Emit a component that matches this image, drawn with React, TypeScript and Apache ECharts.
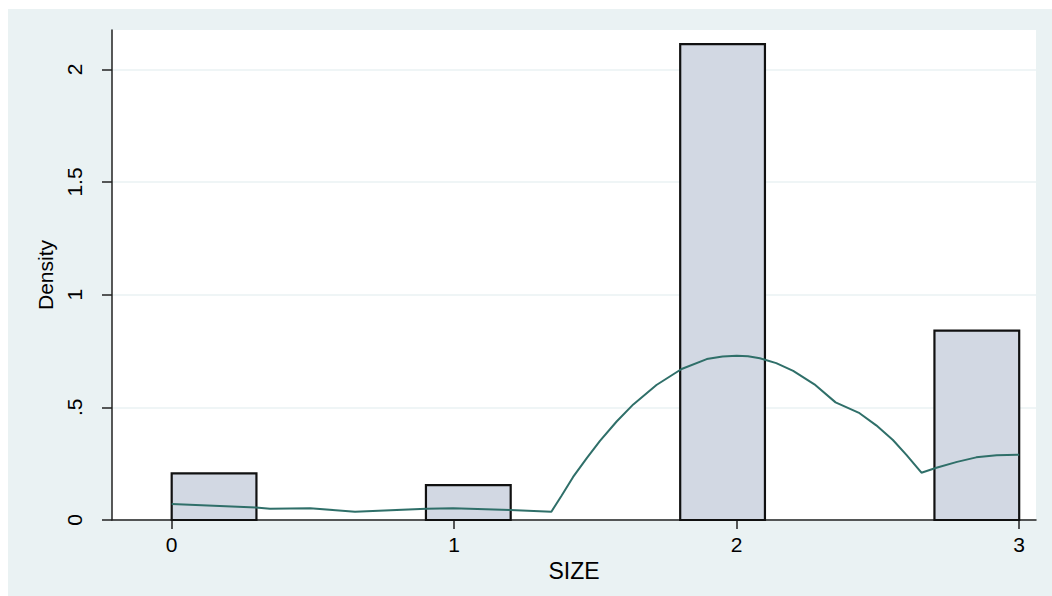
import React, { useEffect, useRef } from "react";
import * as echarts from "echarts";

// Histogram bins (lower edge) and densities
const binStarts = [0, 0.9, 1.8, 2.7];
const binWidth = 0.3;
const binDensity = [0.207, 0.155, 2.112, 0.84];

// Kernel density estimate (x, density)
const kdeX = [0, 0.298, 0.348, 0.49, 0.649, 0.902, 0.996, 1.198, 1.344, 1.38, 1.421, 1.47, 1.516, 1.575, 1.634, 1.716, 1.805, 1.894, 1.95, 2.0, 2.04, 2.082, 2.14, 2.2, 2.275, 2.35, 2.435, 2.494, 2.553, 2.6, 2.654, 2.707, 2.78, 2.848, 2.92, 3.0];
const kdeY = [0.071, 0.055, 0.05, 0.052, 0.037, 0.05, 0.052, 0.044, 0.037, 0.108, 0.191, 0.276, 0.351, 0.437, 0.513, 0.599, 0.67, 0.714, 0.726, 0.729, 0.727, 0.718, 0.696, 0.662, 0.602, 0.522, 0.474, 0.42, 0.355, 0.29, 0.21, 0.232, 0.258, 0.278, 0.287, 0.29];

const xTickValues = [0, 1, 2, 3];
const yTickValues = [0, 0.5, 1, 1.5, 2];
const xTitle = "SIZE";
const yTitle = "Density";

export default function App() {
  const ref = useRef<HTMLDivElement>(null);
  useEffect(() => {
    if (!ref.current) return;
    const chart = echarts.init(ref.current, null, { renderer: "svg" });
    const font = "'Liberation Sans', Arial, sans-serif";
    const barData = binStarts.map((s, i) => [s, s + binWidth, binDensity[i]]);
    const lineData = kdeX.map((x, i) => [x, kdeY[i]]);
    chart.setOption({
      animation: false,
      backgroundColor: "#eaf2f3",
      grid: { left: 104, top: 21, width: 924, height: 490, backgroundColor: "#ffffff", show: true, borderWidth: 0 },
      xAxis: {
        type: "value",
        min: -0.2113,
        max: 3.0595,
        name: xTitle,
        nameLocation: "middle",
        nameGap: 34,
        nameTextStyle: { fontSize: 23, color: "#000", fontFamily: font },
        axisLine: { show: true, onZero: false, lineStyle: { color: "#222", width: 1.5 } },
        axisTick: { show: true, length: 9, customValues: xTickValues, lineStyle: { color: "#222", width: 1.5 } },
        axisLabel: { customValues: xTickValues, fontSize: 21, color: "#000", margin: 14, fontFamily: font },
        splitLine: { show: false },
      },
      yAxis: {
        type: "value",
        min: 0,
        max: 2.1744,
        interval: 0.5,
        name: yTitle,
        nameLocation: "middle",
        nameRotate: 90,
        nameGap: 50,
        nameTextStyle: { fontSize: 21, color: "#000", fontFamily: font },
        axisLine: { show: true, onZero: false, lineStyle: { color: "#222", width: 1.5 } },
        axisTick: { show: true, length: 10, customValues: yTickValues, lineStyle: { color: "#222", width: 1.5 } },
        axisLabel: {
          customValues: yTickValues,
          rotate: 90,
          fontSize: 21,
          color: "#000",
          margin: 27,
          fontFamily: font,
          formatter: (v: number) => (v === 0 ? "0" : String(v).replace(/^0\./, ".")),
        },
        splitLine: { show: true, lineStyle: { color: "#eaf2f3", width: 1.5 } },
      },
      series: [
        {
          type: "custom",
          data: barData,
          encode: { x: [0, 1], y: 2 },
          z: 2,
          renderItem: (params: any, api: any) => {
            const p0 = api.coord([api.value(0), api.value(2)]);
            const p1 = api.coord([api.value(1), 0]);
            return {
              type: "rect",
              shape: { x: p0[0], y: p0[1], width: p1[0] - p0[0], height: p1[1] - p0[1] },
              style: { fill: "#d2d8e3", stroke: "#111", lineWidth: 2.2 },
            };
          },
        },
        {
          type: "line",
          data: lineData,
          showSymbol: false,
          smooth: false,
          z: 3,
          lineStyle: { color: "#2f6f69", width: 2 },
          itemStyle: { color: "#2f6f69" },
        },
      ],
    });
    return () => chart.dispose();
  }, []);
  return (
    <div
      ref={ref}
      style={{ position: "absolute", left: 8, top: 9, width: 1044, height: 587 }}
    />
  );
}
